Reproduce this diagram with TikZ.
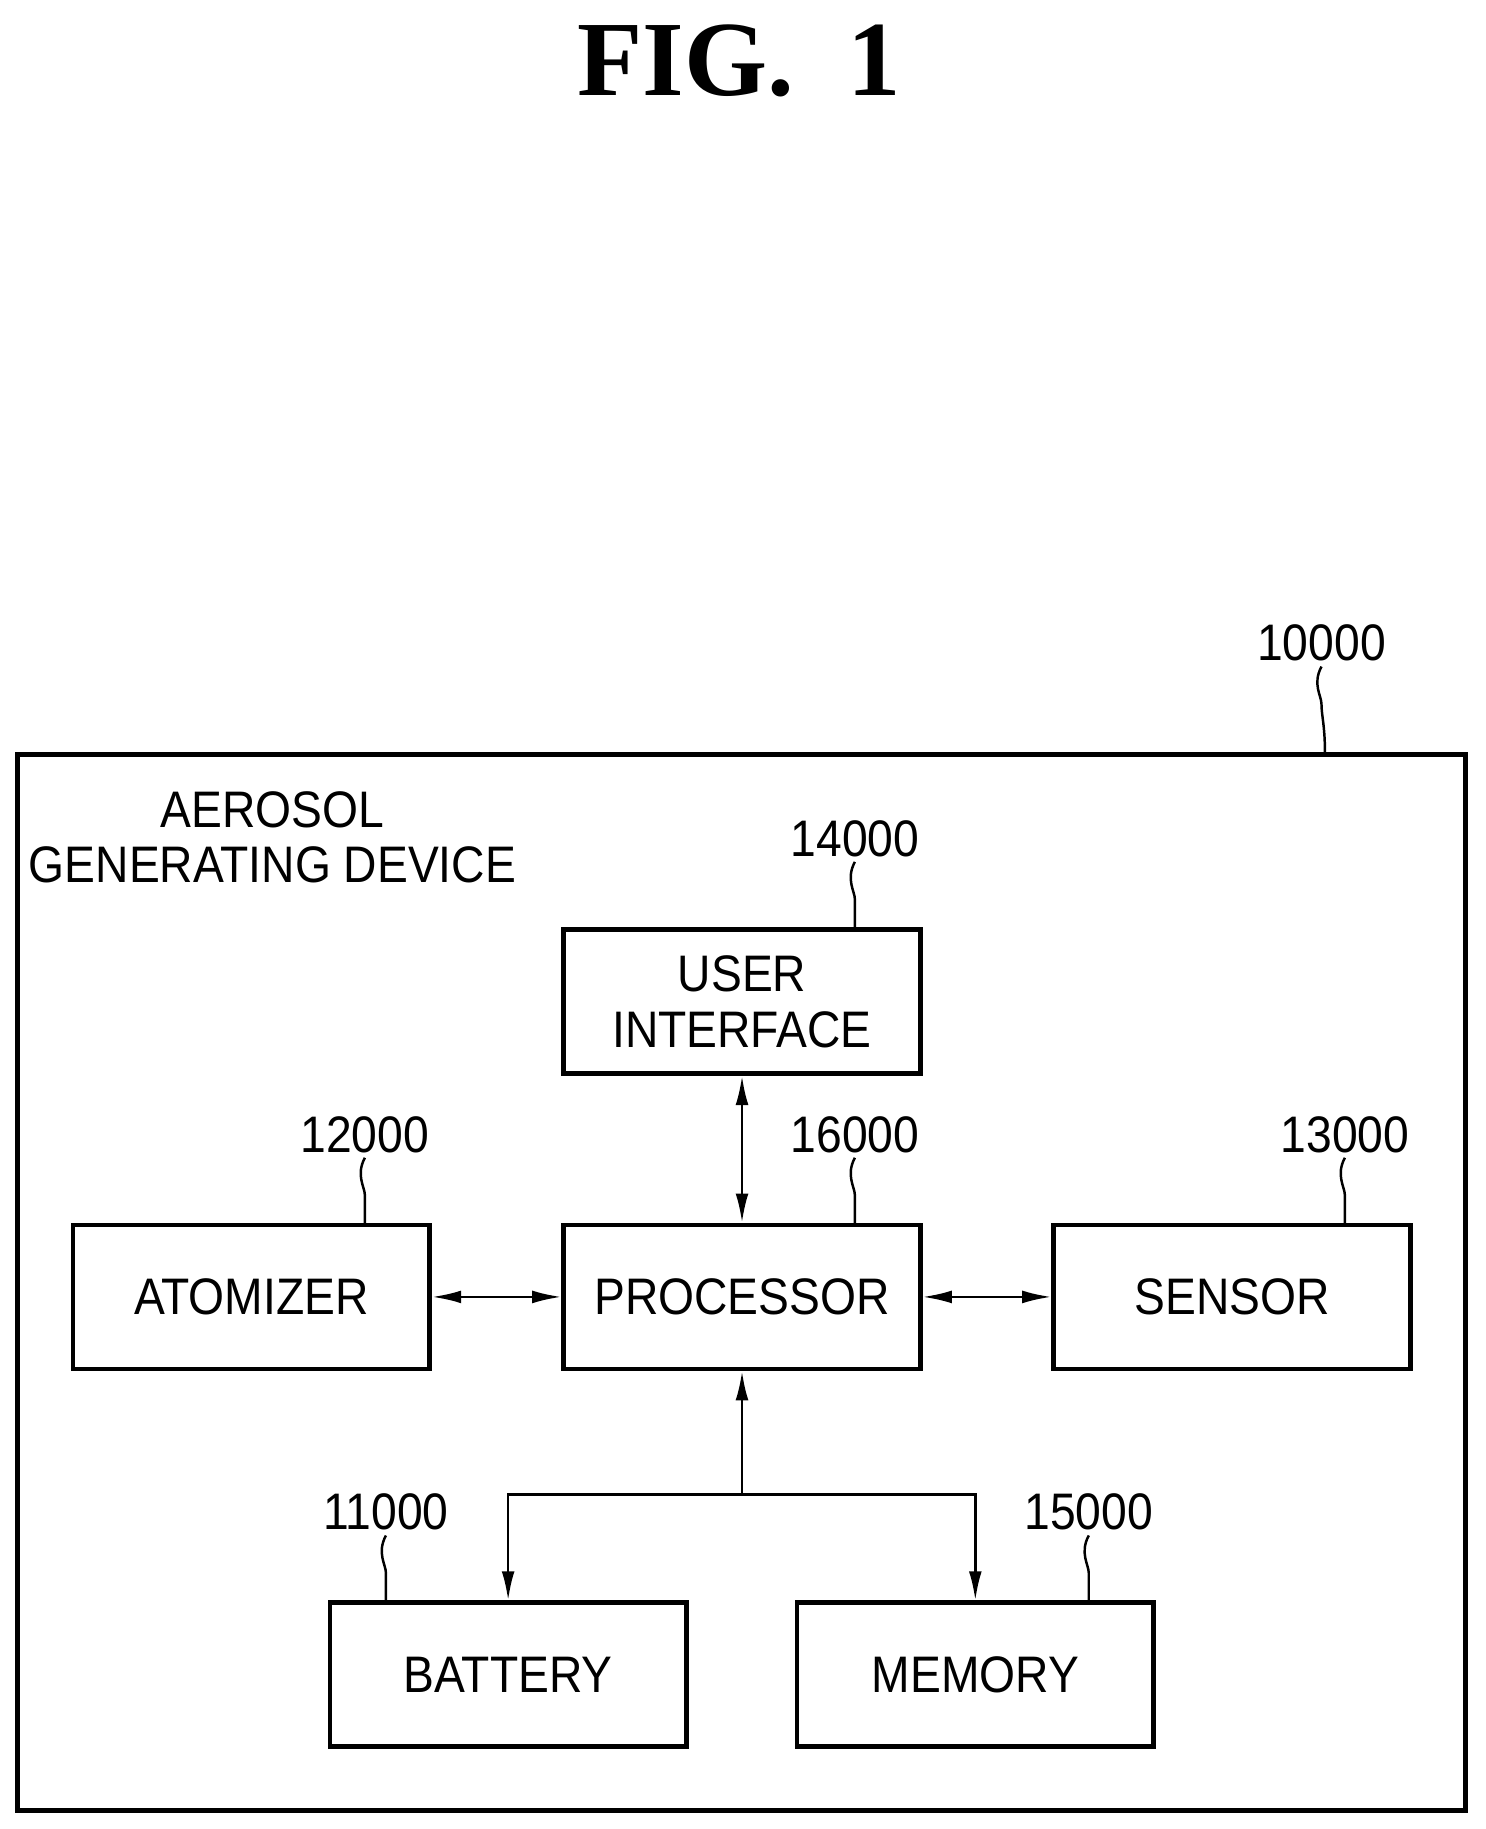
\documentclass[tikz,border=0pt]{standalone}
\usepackage{fontspec}
\setmainfont{Liberation Sans}[FakeStretch=0.9]
\newfontfamily\figfont{Liberation Serif}
\usetikzlibrary{arrows.meta}
\begin{document}
\begin{tikzpicture}[x=0.02cm,y=-0.02cm,
  box/.style={draw,line width=2.2pt,minimum width=6.1cm,minimum height=2.46cm,inner sep=0,font=\fontsize{25}{27}\selectfont,align=center},
  lbl/.style={font=\fontsize{25}{27}\selectfont},
  arr/.style={line width=1.3pt,{Latex[length=0.5cm,width=0.22cm]}-{Latex[length=0.5cm,width=0.22cm]}},
  one/.style={line width=1.3pt,-{Latex[length=0.5cm,width=0.22cm]}},
  sq/.style={line width=1.2pt}]
\useasboundingbox (0,0) rectangle (1270,1564);
\node[font=\figfont\bfseries\fontsize{52}{56}\selectfont] (fig) at (632,52) {FIG.\ \ 1};
\draw[line width=2.2pt] (15,645) rectangle (1253,1548);
\node[lbl] (n10000) at (1130,550) {10000};
\coordinate (o) at (1133,645);
\draw[sq] (1130,570) .. controls (1122,585) and (1130,595) .. (1130,602) .. controls (1130,612) and (1133,620) .. (o);
\node[lbl,align=center] (title) at (233,716) {AEROSOL\\GENERATING DEVICE};
\node[box] (ui) at (634.5,856.5) {USER\\INTERFACE};
\node[box] (at) at (215,1109) {ATOMIZER};
\node[box] (pr) at (634.5,1109) {PROCESSOR};
\node[box] (se) at (1053.5,1109) {SENSOR};
\node[box] (ba) at (434.5,1432) {BATTERY};
\node[box] (me) at (834,1432) {MEMORY};
\foreach \n/\x/\t/\y/\s in {n14000/731/795/717/14000,n12000/312/1048/970/12000,n16000/731/1048/970/16000,n13000/1150/1048/970/13000,n11000/330/1370/1293/11000,n15000/931/1370/1293/15000}{
  \node[lbl] (\n) at (\x,\y) {\s};
  \coordinate (t\n) at (\x,\t);
  \draw[sq] (\x,\y+20) .. controls (\x-8,\y+35) and (\x,\y+45) .. (\x,\y+52) .. controls (\x,\y+62) and (\x,\y+70) .. (t\n);
}
\draw[arr] (ui.south) -- (pr.north);
\draw[arr] (at.east) -- (pr.west);
\draw[arr] (pr.east) -- (se.west);
\coordinate (j) at (634.5,1278);
\draw[one] (j) -- (pr.south);
\draw[one] (j) -| (ba.north);
\draw[one] (j) -| (me.north);
\end{tikzpicture}
\end{document}
